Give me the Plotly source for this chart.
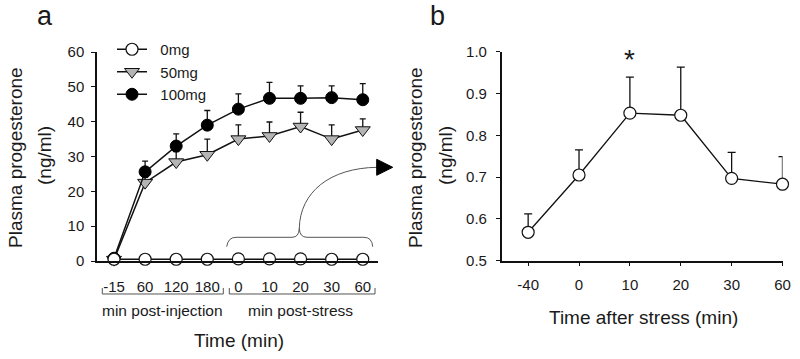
import plotly.graph_objects as go

W, H = 800, 359

# ---------------- data: panel a ----------------
cat_a = ["-15", "60", "120", "180", "0", "10", "20", "30", "60"]
mg0 = [0.5, 0.5, 0.5, 0.5, 0.6, 0.6, 0.6, 0.5, 0.5]
mg0_err = [0.5, 0.3, 0.3, 0.3, 0.3, 0.3, 0.3, 0.3, 0.3]
mg50 = [0.4, 22.5, 28.4, 30.5, 35.0, 35.9, 38.6, 35.0, 37.6]
mg50_err = [0.6, 1.5, 3.0, 4.5, 4.1, 4.0, 4.1, 4.1, 3.2]
mg100 = [0.8, 25.6, 33.0, 39.0, 43.6, 46.7, 46.7, 46.9, 46.3]
mg100_err = [1.0, 3.1, 3.5, 4.2, 4.4, 4.6, 3.6, 3.4, 4.6]

# ---------------- data: panel b ----------------
cat_b = ["-40", "0", "10", "20", "30", "60"]
prog_b = [0.568, 0.705, 0.853, 0.848, 0.697, 0.683]
prog_b_err = [0.044, 0.060, 0.086, 0.115, 0.062, 0.066]

yticks_a = [0, 10, 20, 30, 40, 50, 60]
yticks_b = [0.5, 0.6, 0.7, 0.8, 0.9, 1.0]

FONT = "Arial, Liberation Sans, sans-serif"
TXT = "#1a1a1a"


def px(x):
    return x / W


def py(y):
    return 1 - y / H


def path(cmds):
    out = []
    for c in cmds:
        if isinstance(c, str):
            out.append(c)
        else:
            out.append(f"{px(c[0]):.5f},{py(c[1]):.5f}")
    return " ".join(out)


xa = list(range(len(cat_a)))
xb = list(range(len(cat_b)))

fig = go.Figure()


def err(arr, w=3):
    return dict(type="data", symmetric=False, array=arr, arrayminus=[0] * len(arr),
                color="#111", thickness=1.3, width=w)


fig.add_trace(go.Scatter(
    x=xa, y=mg50, name="\u00a0\u00a050mg", mode="lines+markers", legendrank=2,
    line=dict(color="#111", width=1.5),
    marker=dict(symbol="triangle-down", size=13, color="#b4b4b4", line=dict(color="#111", width=1)),
    error_y=err(mg50_err), cliponaxis=False, xaxis="x", yaxis="y"))
fig.add_trace(go.Scatter(
    x=xa, y=mg100, name="\u00a0\u00a0100mg", mode="lines+markers", legendrank=3,
    line=dict(color="#111", width=1.5),
    marker=dict(symbol="circle", size=12, color="#000", line=dict(color="#000", width=1)),
    error_y=err(mg100_err), cliponaxis=False, xaxis="x", yaxis="y"))
fig.add_trace(go.Scatter(
    x=xa, y=mg0, name="\u00a0\u00a00mg", mode="lines+markers", legendrank=1,
    line=dict(color="#111", width=1.5),
    marker=dict(symbol="circle", size=12, color="#fff", line=dict(color="#111", width=1.2)),
    error_y=err(mg0_err), cliponaxis=False, xaxis="x", yaxis="y"))

fig.add_trace(go.Scatter(
    x=xb, y=prog_b, mode="lines+markers", showlegend=False,
    line=dict(color="#111", width=1.3),
    marker=dict(symbol="circle", size=12, color="#fff", line=dict(color="#111", width=1.2)),
    error_y=err(prog_b_err, 4), cliponaxis=False, xaxis="x2", yaxis="y2"))

axis_common = dict(showline=True, linecolor="#111", linewidth=1.5, showgrid=False, zeroline=False,
                   automargin=False, tickfont=dict(family=FONT, size=15, color=TXT))

fig.update_layout(
    width=W, height=H, margin=dict(l=0, r=0, t=0, b=0, autoexpand=False),
    paper_bgcolor="white", plot_bgcolor="white",
    font=dict(family=FONT, color=TXT),
    xaxis=dict(domain=[px(97), px(378)], range=[-0.547, 8.49], tickvals=xa, ticktext=cat_a,
               ticks="outside", ticklen=1, tickcolor="rgba(0,0,0,0)", ticklabelstandoff=10,
               anchor="y", **axis_common),
    yaxis=dict(domain=[py(261), py(52)], range=[0, 60], tickvals=yticks_a,
               ticks="outside", ticklen=4, tickcolor="#111", ticklabelstandoff=4,
               anchor="x", **axis_common),
    xaxis2=dict(domain=[px(501.7), px(782.5)], range=[-0.52, 5.0], tickvals=xb, ticktext=cat_b,
                ticks="outside", ticklen=4, tickcolor="#111", ticklabelstandoff=6,
                anchor="y2", **axis_common),
    yaxis2=dict(domain=[py(260.7), py(51.7)], range=[0.5, 1.0], tickvals=yticks_b,
                tickformat=".1f", ticks="outside", ticklen=4, tickcolor="#111", ticklabelstandoff=6,
                anchor="x2", **axis_common),
    legend=dict(x=px(112), y=py(33), xanchor="left", yanchor="top", bgcolor="rgba(0,0,0,0)",
                font=dict(family=FONT, size=15, color=TXT), itemwidth=30,
                traceorder="normal"),
)

ann = []


def text(x, y, s, size, angle=0, xanchor="center", yanchor="middle"):
    ann.append(dict(x=px(x), y=py(y), xref="paper", yref="paper", text=s, showarrow=False,
                    textangle=angle, xanchor=xanchor, yanchor=yanchor,
                    font=dict(family=FONT, size=size, color=TXT)))


text(45, 16, "a", 27)
text(437, 16, "b", 27)
text(15, 158, "Plasma progesterone", 19, -90)
text(44, 156, "(ng/ml)", 19, -90)
text(415, 158, "Plasma progesterone", 19, -90)
text(445, 156, "(ng/ml)", 19, -90)
text(239, 340, "Time (min)", 19)
text(643, 317, "Time after stress (min)", 19)
text(162, 310, "min post-injection", 15.5)
text(300, 310, "min post-stress", 15.5)
ann.append(dict(x=2, y=0.94, xref="x2", yref="y2", text="*", showarrow=False, yanchor="bottom",
                font=dict(family=FONT, size=28, color=TXT)))
fig.update_layout(annotations=ann)

GREY = "#555"
shapes = [
    dict(type="path", xref="paper", yref="paper", line=dict(color=GREY, width=1),
         path=path(["M", (102.3, 288), "L", (102.3, 294), "L", (223.3, 294), "L", (223.3, 288)])),
    dict(type="path", xref="paper", yref="paper", line=dict(color=GREY, width=1),
         path=path(["M", (229.3, 288), "L", (229.3, 294), "L", (375, 294), "L", (375, 288)])),
    dict(type="path", xref="paper", yref="paper", line=dict(color=GREY, width=1),
         path=path(["M", (226.7, 246.7), "Q", (228, 237.3), (236, 237.3), "L", (292, 237.3),
                    "Q", (299, 237.3), (299.3, 228.3), "Q", (299.6, 237.3), (307, 237.3),
                    "L", (364, 237.3), "Q", (372, 237.3), (372.7, 246.7)])),
    dict(type="path", xref="paper", yref="paper", line=dict(color=GREY, width=1),
         path=path(["M", (299.3, 228.3), "C", (300, 192), (330, 168), (377, 167.3)])),
    dict(type="path", xref="paper", yref="paper", line=dict(color="#000", width=1), fillcolor="#000",
         path=path(["M", (376.7, 159.3), "L", (392.7, 167.3), "L", (376.7, 175.3), "Z"])),
]
fig.update_layout(shapes=shapes)

fig.write_html("out.html", config={"displayModeBar": False},
               post_script="document.body.style.margin='0';document.body.style.overflow='hidden';")
